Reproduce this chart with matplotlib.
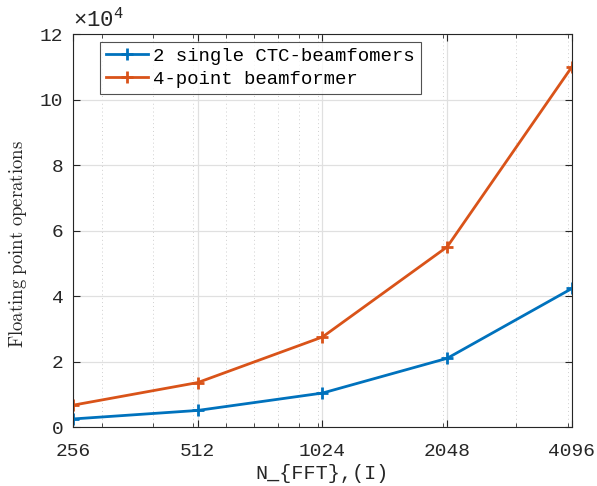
import matplotlib
matplotlib.use("Agg")
import matplotlib.pyplot as plt
from matplotlib.ticker import FixedLocator, FuncFormatter, NullFormatter

n_fft = [256, 512, 1024, 2048, 4096]
ctc_two = [2600, 5200, 10500, 21100, 42400]
four_point = [6800, 13700, 27600, 55100, 110000]
series_labels = ["2 single CTC-beamfomers", "4-point beamformer"]
y_ticks = [0, 20000, 40000, 60000, 80000, 100000, 120000]

plt.rcParams['mathtext.fontset'] = 'custom'
plt.rcParams['mathtext.rm'] = 'Liberation Mono'
mono = 'Liberation Mono'

fig = plt.figure(figsize=(5.97, 4.86), dpi=100)
ax = fig.add_axes([0.1223, 0.1204, 0.8357, 0.8096])

blue = '#0072BD'
orange = '#D95319'
ax.plot(n_fft, ctc_two, color=blue, lw=2, marker='+', ms=8, mew=2, label=series_labels[0])
ax.plot(n_fft, four_point, color=orange, lw=2, marker='+', ms=8, mew=2, label=series_labels[1])

ax.set_xscale('log', base=2)
ax.set_xlim(256, 4096)
ax.set_ylim(0, 120000)
ax.xaxis.set_major_locator(FixedLocator(n_fft))
ax.xaxis.set_major_formatter(FuncFormatter(lambda v, p: f"{int(round(v))}"))
ax.xaxis.set_minor_locator(FixedLocator([300, 400, 500, 600, 700, 800, 900, 1000, 2000, 3000, 4000]))
ax.xaxis.set_minor_formatter(NullFormatter())
ax.yaxis.set_major_locator(FixedLocator(y_ticks))
ax.yaxis.set_major_formatter(FuncFormatter(lambda v, p: f"{v/1e4:g}"))

ax.grid(True, which='major', color='#e0e0e0', lw=0.9, ls='-')
ax.grid(True, which='minor', axis='x', color='#cfcfcf', lw=0.7, ls=(0, (1, 3)))
ax.set_axisbelow(True)

ax.tick_params(which='both', direction='in', top=True, right=True, colors='#262626',
               labelsize=14, labelcolor='#262626')
ax.tick_params(which='major', length=5, width=0.8)
ax.tick_params(which='minor', length=3, width=0.6)
ax.tick_params(axis='x', which='major', pad=11)
ax.tick_params(axis='y', which='major', pad=7)
for lab in ax.get_xticklabels() + ax.get_yticklabels():
    lab.set_fontfamily(mono)
for s in ax.spines.values():
    s.set_color('#262626')
    s.set_linewidth(0.8)

ax.set_xlabel("N_{FFT},(I)", fontfamily=mono, fontsize=14.5, color='#262626', labelpad=3)
ax.set_ylabel(r"$\mathrm{Floating\ point\ operations}$", math_fontfamily='cm', fontsize=13.5,
              color='#262626')
ax.yaxis.set_label_coords(-0.088, 0.465)

ax.text(0.0, 1.01, r"$\times10^{4}$", transform=ax.transAxes, fontsize=16,
        color='#262626', ha='left', va='bottom')

leg = ax.legend(loc='upper left', bbox_to_anchor=(0.054, 0.98), prop={'family': mono, 'size': 13.7},
                frameon=True, fancybox=False, edgecolor='#262626', handlelength=2.2,
                handletextpad=0.3, borderpad=0.3, labelspacing=0.3, borderaxespad=0.0)
leg.get_frame().set_linewidth(0.8)

fig.savefig("out.png", dpi=100)
